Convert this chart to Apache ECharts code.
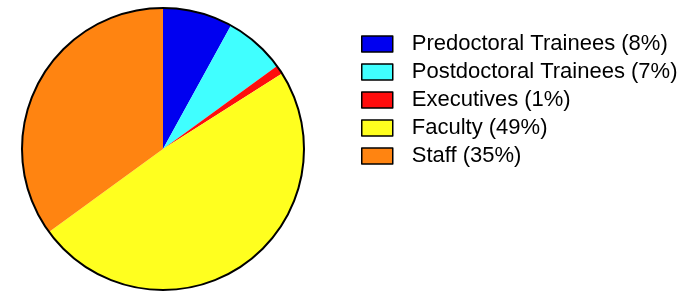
<!DOCTYPE html>
<html>
<head>
<meta charset="utf-8">
<script src="https://cdn.jsdelivr.net/npm/echarts@6/dist/echarts.min.js"></script>
<style>
  html, body { margin: 0; padding: 0; background: #fff; }
  #main { width: 694px; height: 291px; }
</style>
</head>
<body>
<div id="main"></div>
<script>
// slice names and shares, clockwise from 12 o'clock
var categories = ['Predoctoral Trainees', 'Postdoctoral Trainees', 'Executives', 'Faculty', 'Staff'];
var shares = [8, 7, 1, 49, 35];
var colors = ['#0000f0', '#40ffff', '#ff0d0d', '#ffff1f', '#ff8411'];

var total = shares.reduce(function (a, b) { return a + b; }, 0);
var pieData = categories.map(function (name, i) {
  return { name: name, value: shares[i], itemStyle: { color: colors[i] } };
});

var chart = echarts.init(document.getElementById('main'));
chart.setOption({
  animation: false,
  legend: {
    orient: 'vertical',
    left: 356,
    top: 28,
    icon: 'rect',
    itemWidth: 31,
    itemHeight: 16,
    itemGap: 6,
    selectedMode: false,
    data: categories,
    itemStyle: { borderColor: '#000', borderWidth: 1.5 },
    textStyle: {
      fontFamily: 'Liberation Sans, Arial, sans-serif',
      fontSize: 22,
      lineHeight: 22,
      color: '#000',
      padding: [0, 0, 0, 14]
    },
    formatter: function (name) {
      var v = shares[categories.indexOf(name)];
      return name + ' (' + Math.round(v / total * 100) + '%)';
    }
  },
  series: [
    {
      type: 'pie',
      center: [163, 149],
      radius: 141,
      startAngle: 90,
      clockwise: true,
      silent: true,
      label: { show: false },
      labelLine: { show: false },
      itemStyle: { borderWidth: 0 },
      data: pieData
    },
    {
      // outer outline only
      type: 'pie',
      center: [163, 149],
      radius: 141,
      silent: true,
      label: { show: false },
      labelLine: { show: false },
      itemStyle: { color: 'rgba(0,0,0,0)', borderColor: '#000', borderWidth: 2 },
      data: [{ name: 'outline', value: 1 }]
    }
  ]
});
</script>
</body>
</html>
